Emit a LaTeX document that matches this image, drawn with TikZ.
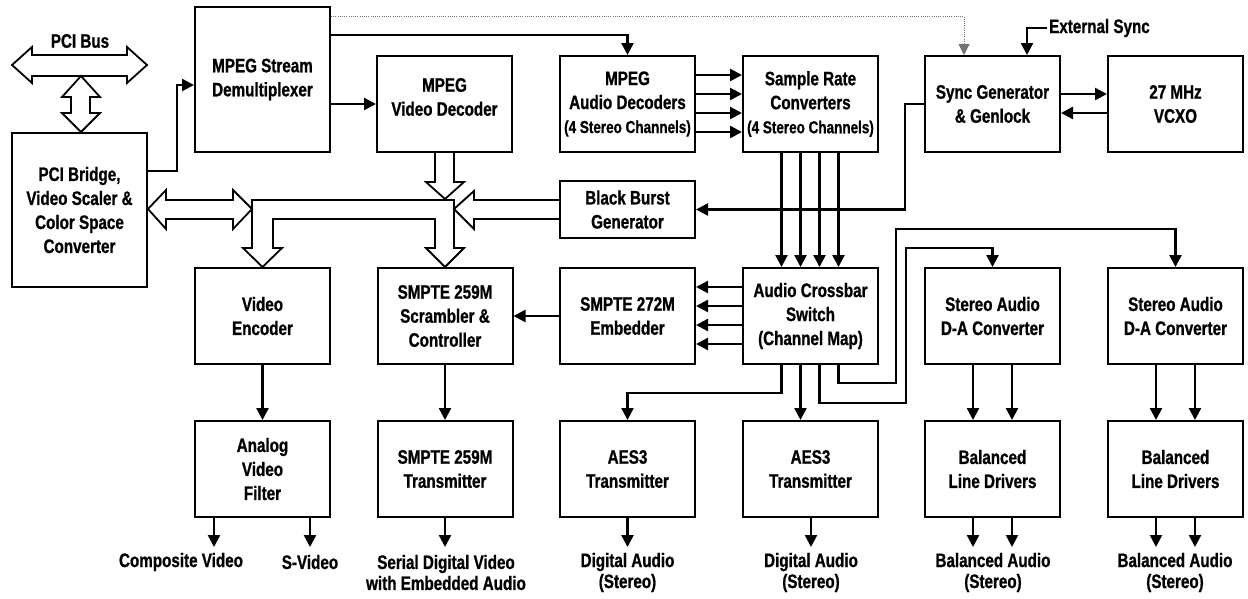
\documentclass[tikz,border=0pt]{standalone}
\usepackage{fontspec}
\setmainfont{Liberation Sans}[FakeStretch=0.78, BoldFeatures={FakeBold=0.9}]
\usetikzlibrary{arrows.meta}
\begin{document}
\begin{tikzpicture}[x=1pt,y=-1pt,
  box/.style={draw, line width=2pt, minimum width=135pt, minimum height=96pt, inner sep=2pt, align=center, font=\bfseries\fontsize{19.5}{24}\selectfont},
  boxtxt/.style={align=center, inner sep=0pt, font=\bfseries\fontsize{19.5}{24}\selectfont},
  lbl/.style={align=center, inner sep=0pt, font=\bfseries\fontsize{19.5}{21}\selectfont},
  conn/.style={line width=2.4pt, -{Triangle[length=12pt,width=12pt]}},
  wire/.style={line width=2.4pt},
  hollow/.style={line width=1.8pt, line join=miter, fill=white},
  hline/.style={line width=1.8pt, line join=miter},
  dots/.style={line width=1pt, black!55, dash pattern=on 1pt off 1.2pt, -{Triangle[length=11pt,width=11pt]}}]
\useasboundingbox (0,0) rectangle (1248,598);

% boxes
\node[box, minimum height=154pt] (pci) at (79.5,210) {PCI Bridge,\\Video Scaler \&\\Color Space\\Converter};
\node[box, minimum height=145pt] (demux) at (262.5,79.5) {MPEG Stream\\Demultiplexer};
\node[box] (vdec) at (444.5,104) {};
\node[boxtxt] (vdect) at (444.5,97) {MPEG\\Video Decoder};
\node[box] (adec) at (627.5,104) {MPEG\\Audio Decoders\\{\fontsize{17.3}{22}\selectfont (4 Stereo Channels)}};
\node[box] (src) at (810.5,104) {Sample Rate\\Converters\\{\fontsize{17.3}{22}\selectfont (4 Stereo Channels)}};
\node[box] (sync) at (992.5,104) {Sync Generator\\\& Genlock};
\node[box] (vcxo) at (1175.5,104) {27 MHz\\VCXO};
\node[box, minimum height=57pt] (bbg) at (627.5,209.5) {Black Burst\\Generator};
\node[box] (venc) at (262.5,316) {Video\\Encoder};
\node[box] (scr) at (445,316) {SMPTE 259M\\Scrambler \&\\Controller};
\node[box] (e272) at (627.5,316) {SMPTE 272M\\Embedder};
\node[box] (xbar) at (810.5,316) {Audio Crossbar\\Switch\\(Channel Map)};
\node[box] (dac1) at (992.5,316) {Stereo Audio\\D-A Converter};
\node[box] (dac2) at (1175.5,316) {Stereo Audio\\D-A Converter};
\node[box] (avf) at (262.5,469) {Analog\\Video\\Filter};
\node[box] (stx) at (445,469) {SMPTE 259M\\Transmitter};
\node[box] (aes1) at (627.5,469) {AES3\\Transmitter};
\node[box] (aes2) at (810.5,469) {AES3\\Transmitter};
\node[box] (bld1) at (992.5,469) {Balanced\\Line Drivers};
\node[box] (bld2) at (1175.5,469) {Balanced\\Line Drivers};

% free labels
\node[lbl] (pcibus) at (80,41) {PCI Bus};
\node[lbl, anchor=west, inner sep=2pt] (ext) at (1047,28) {External Sync};
\node[lbl] (lcv) at (181,562) {Composite Video};
\node[lbl] (lsv) at (310,562) {S-Video};
\node[lbl] (lsdi) at (446,572.5) {Serial Digital Video\\with Embedded Audio};
\node[lbl] (lda1) at (627.5,572.5) {Digital Audio\\(Stereo)};
\node[lbl] (lda2) at (811,572.5) {Digital Audio\\(Stereo)};
\node[lbl] (lba1) at (993,572.5) {Balanced Audio\\(Stereo)};
\node[lbl] (lba2) at (1175,572.5) {Balanced Audio\\(Stereo)};

% output end points
\coordinate (ocv) at (214,547);
\coordinate (osv) at (310,547);
\coordinate (osdi) at (445,547);
\coordinate (oda1) at (627.5,547);
\coordinate (oda2) at (811,547);
\coordinate (oba1l) at (973,547);
\coordinate (oba1r) at (1012,547);
\coordinate (oba2l) at (1156,547);
\coordinate (oba2r) at (1195,547);

% hollow bus arrows
\draw[hollow] (12,65) -- (32,47) -- (32,55) -- (127,55) -- (127,47) -- (147,65) -- (127,83) -- (127,76) -- (32,76) -- (32,83) -- cycle;
\draw[hollow] (81,76) -- (100,97) -- (90,97) -- (90,113) -- (100,113) -- (81,132) -- (62,113) -- (71,113) -- (71,97) -- (62,97) -- cycle;
\draw[hollow] (148,209) -- (166,190) -- (166,200) -- (233,200) -- (233,190) -- (252,209) -- (233,229) -- (233,219) -- (166,219) -- (166,229) -- cycle;
\draw[hline] (252,200) -- (454,200) -- (454,248) -- (464,248) -- (445,267) -- (426,248) -- (435,248) -- (435,219) -- (273,219) -- (273,248) -- (282,248) -- (262.5,267) -- (243,248) -- (252,248) -- cycle;
\draw[hline] (560,200) -- (474,200) -- (474,191) -- (454,209) -- (474,229) -- (474,219) -- (560,219);
\draw[hline] (435,152) -- (435,182) -- (426,182) -- (445,199) -- (464,182) -- (454,182) -- (454,152);

% connectors
\draw[conn] ([yshift=39pt]pci.east) -- ++(29,0) |- ([yshift=-5.5pt]demux.west);
\draw[conn] (vdec.west -| demux.east) -- (vdec.west);
\draw[conn] ([yshift=-29pt]demux.north east) -| (adec.north);
\draw[dots] ([yshift=-10pt]demux.north east) -| ([xshift=-28.5pt]sync.north);
\draw[conn] (ext.west) -| ([xshift=34.5pt]sync.north);
\foreach \d in {29,10,-9,-28} {
  \draw[conn] ([yshift=\d pt]adec.east) -- ([yshift=\d pt]src.west);
  \draw[conn] ([xshift=-\d pt]src.south) -- ([xshift=-\d pt]xbar.north);
  \draw[conn] ([yshift=\d pt]xbar.west) -- ([yshift=\d pt]e272.east);
}
\draw[conn] ([yshift=10pt]sync.east) -- ([yshift=10pt]vcxo.west);
\draw[conn] ([yshift=-9pt]vcxo.west) -- ([yshift=-9pt]sync.east);
\draw[conn] (sync.west) -- ++(-19,0) |- (bbg.east);
\draw[conn] (e272.west) -- (scr.east);
\draw[conn] (venc.south) -- (avf.north);
\draw[conn] (scr.south) -- (stx.north);
\draw[conn] ([xshift=-29pt]xbar.south) -- ++(0,28) -| (aes1.north);
\draw[conn] ([xshift=-10pt]xbar.south) -- ([xshift=-10pt]aes2.north);
\draw[conn] ([xshift=9pt]xbar.south) -- ++(0,38) -| (906,248) -| (dac1.north);
\draw[conn] ([xshift=28pt]xbar.south) -- ++(0,18) -| (896,229) -| (dac2.north);
\draw[conn] ([xshift=-19.5pt]dac1.south) -- ([xshift=-19.5pt]bld1.north);
\draw[conn] ([xshift=19.5pt]dac1.south) -- ([xshift=19.5pt]bld1.north);
\draw[conn] ([xshift=-19.5pt]dac2.south) -- ([xshift=-19.5pt]bld2.north);
\draw[conn] ([xshift=19.5pt]dac2.south) -- ([xshift=19.5pt]bld2.north);
% outputs
\draw[conn] (avf.south -| ocv) -- (ocv);
\draw[conn] (avf.south -| osv) -- (osv);
\draw[conn] (stx.south -| osdi) -- (osdi);
\draw[conn] (aes1.south -| oda1) -- (oda1);
\draw[conn] (aes2.south -| oda2) -- (oda2);
\draw[conn] (bld1.south -| oba1l) -- (oba1l);
\draw[conn] (bld1.south -| oba1r) -- (oba1r);
\draw[conn] (bld2.south -| oba2l) -- (oba2l);
\draw[conn] (bld2.south -| oba2r) -- (oba2r);
\end{tikzpicture}
\end{document}
